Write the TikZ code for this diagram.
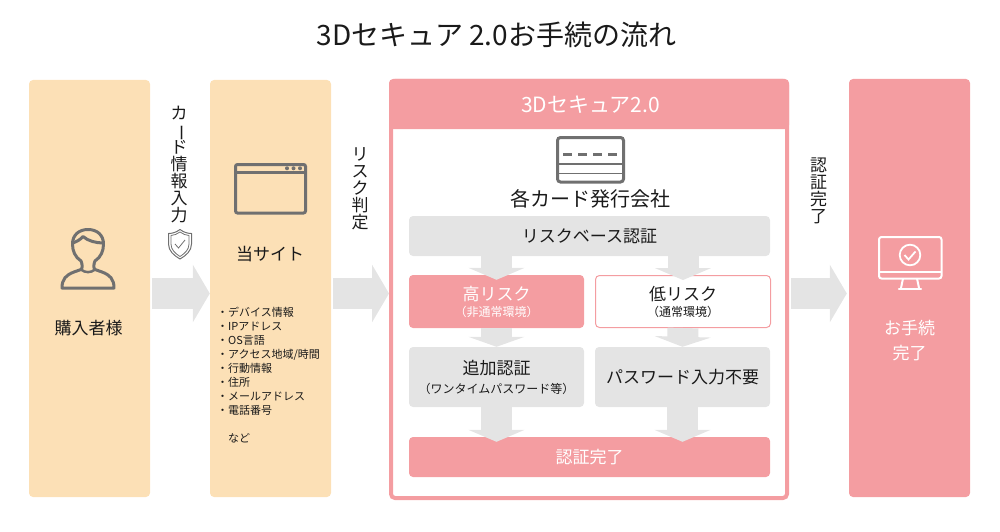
\documentclass[tikz,border=0pt]{standalone}
\usepackage{fontspec}
\setmainfont{Noto Sans CJK JP}
\usetikzlibrary{arrows.meta,positioning,calc}
\definecolor{sbcream}{HTML}{FCE0B6}
\definecolor{sbpink}{HTML}{F49DA1}
\definecolor{sbgray}{HTML}{E4E4E4}
\definecolor{sbicon}{HTML}{707070}
\definecolor{sbink}{HTML}{1A1A1A}
\newcommand{\vbar}{\rotatebox[origin=c]{-90}{ー}}
\newcommand{\subline}{\fontsize{12}{14}\selectfont}

\begin{document}
\begin{tikzpicture}[
  x=1pt,y=-1pt,
  panel/.style={rounded corners=4pt,minimum width=121pt,minimum height=417pt,inner sep=0pt},
  stepbox/.style={rounded corners=4pt,inner sep=0pt,align=center,font=\fontsize{17}{20}\selectfont,text=sbink},
  bigflow/.style={-{Triangle[length=17pt,width=57pt]},draw=sbgray,line width=31pt},
  lowflow/.style={-{Triangle[length=12pt,width=56pt]},draw=sbgray,line width=31pt},
  vlabel/.style={font=\fontsize{17}{18}\selectfont,text=sbink,align=center,inner sep=0pt},
  icon/.style={draw=sbicon,line width=3pt,rounded corners=2pt},
  whiteicon/.style={draw=white,line width=2pt}
]
\useasboundingbox (0,0) rectangle (1000,532);
\node[font=\fontsize{28}{32}\selectfont,text=sbink,inner sep=0pt] (title) at (496.5,35) {3Dセキュア 2.0お手続の流れ};

% outer panels
\node[panel,fill=sbcream] (buyer) at (89.5,288.5) {};
\node[panel,fill=sbcream] (site) at (270.5,288.5) {};
\node[panel,fill=sbpink,minimum height=418pt] (done) at (909.5,288) {};
\node[rounded corners=4pt,draw=sbpink,line width=4pt,minimum width=396pt,minimum height=417pt,inner sep=0pt] (secure) at (589,289.5) {};
\fill[sbpink,rounded corners=4pt] (389,129) -- (389,79) -- (789,79) -- (789,129) -- cycle;
\node[font=\fontsize{21}{24}\selectfont,text=white,inner sep=0pt] (securetitle) at (590.5,105) {3Dセキュア2.0};

% arrows between panels
\coordinate (a1) at (152,293.5);
\coordinate (a2) at (333,293.5);
\coordinate (a3) at (791,293.5);
\draw[bigflow] (a1) -- (site.west |- a1);
\draw[bigflow] (a2) -- (secure.west |- a2);
\draw[bigflow,shorten >=2pt] (a3) -- (done.west |- a3);

% buyer
\draw[icon,rounded corners=0pt,line join=round] (62,288) .. controls (62,279) and (66,275) .. (74,272) -- (81,269.5)
  .. controls (83,268) and (82,263) .. (81,261)
  .. controls (75,257) and (72.5,251) .. (72.5,244) .. controls (72.5,235) and (79,229.5) .. (88,229.5)
  .. controls (97,229.5) and (103.5,235) .. (103.5,244) .. controls (103.5,251) and (101,257) .. (95,261)
  .. controls (94,263) and (93,268) .. (95,269.5) -- (102,272) .. controls (110,275) and (114,279) .. (114,288) -- cycle;
\draw[icon,line width=2.5pt] (81,269.5) .. controls (85,273) and (91,273) .. (95,269.5);
\draw[icon,rounded corners=0pt,line join=round] (72.5,243) .. controls (76,242) and (80,240) .. (83,236.5)
  .. controls (88,241) and (96,243) .. (103.5,243);
\node[font=\fontsize{17}{20}\selectfont,text=sbink,inner sep=0pt] (buyerlabel) at (88.5,328) {購入者様};

% card input label
\node[vlabel] (cardlabel) at (179,165) {カ\\[-1pt]\vbar\\[-1pt]ド\\[-1pt]情\\[-1pt]報\\[-1pt]入\\[-1pt]力};
\draw[draw=sbicon,line width=1pt,line join=round] (180,229.5) .. controls (176,232.5) and (172,233.5) .. (168.5,233.5) -- (168.5,244)
  .. controls (168.5,251) and (174,255.5) .. (180,259) .. controls (186,255.5) and (191.5,251) .. (191.5,244) -- (191.5,233.5)
  .. controls (188,233.5) and (184,232.5) .. (180,229.5) -- cycle;
\draw[draw=sbicon,line width=.8pt,line join=round] (180,232) .. controls (177,234) and (174,235.5) .. (171,235.5) -- (171,244)
  .. controls (171,250) and (175.5,253.5) .. (180,256.5) .. controls (184.5,253.5) and (189,250) .. (189,244) -- (189,235.5)
  .. controls (186,235.5) and (183,234) .. (180,232) -- cycle;
\draw[draw=sbicon,line width=.8pt] (175,244) -- (178.5,248) -- (185,240);

% site
\draw[icon] (235.5,164.5) rectangle (305.5,213);
\draw[draw=sbicon,line width=2.5pt] (235.5,172.5) -- (305.5,172.5);
\foreach \x in {287,293.5,300} {
  \fill[sbicon] (\x,168.3) circle (2pt);
}
\node[font=\fontsize{17}{20}\selectfont,text=sbink,inner sep=0pt] (sitelabel) at (270,254) {当サイト};
\node[anchor=north west,align=left,inner sep=0pt,font=\fontsize{11}{14}\selectfont,text=sbink] (sitelist) at (217,306.5)
  {・デバイス情報\\・IPアドレス\\・OS言語\\・アクセス地域/時間\\・行動情報\\・住所\\・メールアドレス\\・電話番号\\[14pt]\hspace{11pt}など};
\node[vlabel] (risklabel) at (360,189) {リ\\[-1pt]ス\\[-1pt]ク\\[-1pt]判\\[-1pt]定};

% issuer
\draw[icon,rounded corners=3pt] (557.5,137.5) rectangle (623.5,182);
\draw[draw=sbicon,line width=2.5pt] (557.5,164) -- (623.5,164);
\draw[draw=sbicon,line width=1.5pt] (557.5,173.5) -- (623.5,173.5);
\draw[draw=sbicon,line width=3pt,dash pattern=on 9pt off 6pt] (563,154.5) -- (618,154.5);
\node[font=\fontsize{20}{24}\selectfont,text=sbink,inner sep=0pt] (issuer) at (590,199) {各カード発行会社};

% inner steps
\node[stepbox,fill=sbgray,minimum width=361pt,minimum height=40pt] (riskbase) at (589.5,236) {リスクベース認証};
\node[stepbox,fill=sbpink,text=white,minimum width=175pt,minimum height=53pt] (high) at (496.5,301.5)
  {高リスク\\[-4pt]{\subline （非通常環境）}};
\node[stepbox,fill=white,draw=sbpink,line width=1pt,minimum width=175pt,minimum height=52pt] (low) at (683,301.5)
  {低リスク\\[-4pt]{\subline （通常環境）}};
\node[stepbox,fill=sbgray,minimum width=175pt,minimum height=60pt] (extra) at (496.5,377)
  {追加認証\\[-1pt]{\subline （ワンタイムパスワード等）}};
\node[stepbox,fill=sbgray,minimum width=175pt,minimum height=60pt] (nopass) at (682.5,377) {パスワード入力不要};
\node[stepbox,fill=sbpink,text=white,minimum width=361pt,minimum height=40pt] (authdone) at (589.5,457) {認証完了};

% arrows inside
\draw[lowflow] (riskbase.south -| high.north) -- ([yshift=-5pt]high.north);
\draw[lowflow] (riskbase.south -| low.north) -- ([yshift=-5pt]low.north);
\draw[lowflow,-{Triangle[length=10pt,width=56pt]}] (high.south) -- (extra.north);
\draw[lowflow,-{Triangle[length=10pt,width=56pt]}] (low.south) -- (nopass.north);
\draw[lowflow] (extra.south) -- ([yshift=-5pt]authdone.north -| extra.south);
\draw[lowflow] (nopass.south) -- ([yshift=-5pt]authdone.north -| nopass.south);

% finished
\node[vlabel] (donelabel) at (818.5,191) {認\\[-1pt]証\\[-1pt]完\\[-1pt]了};
\draw[whiteicon,rounded corners=2.5pt] (879,237) rectangle (941.5,278.5);
\draw[whiteicon] (879,272) -- (941.5,272);
\draw[whiteicon,line width=1.8pt] (910,255) circle (10.3pt);
\draw[whiteicon,line width=1.8pt] (904.5,255) -- (908.5,259.5) -- (915.5,251.5);
\draw[whiteicon] (903,278.5) -- (901,288) (917,278.5) -- (919,288);
\draw[whiteicon,line width=2.4pt,line cap=round] (899,289) -- (921,289);
\node[text=white,align=center,inner sep=0pt,font=\fontsize{17}{25}\selectfont] (donetext) at (909.5,340.5) {お手続\\完了};
\end{tikzpicture}
\end{document}
